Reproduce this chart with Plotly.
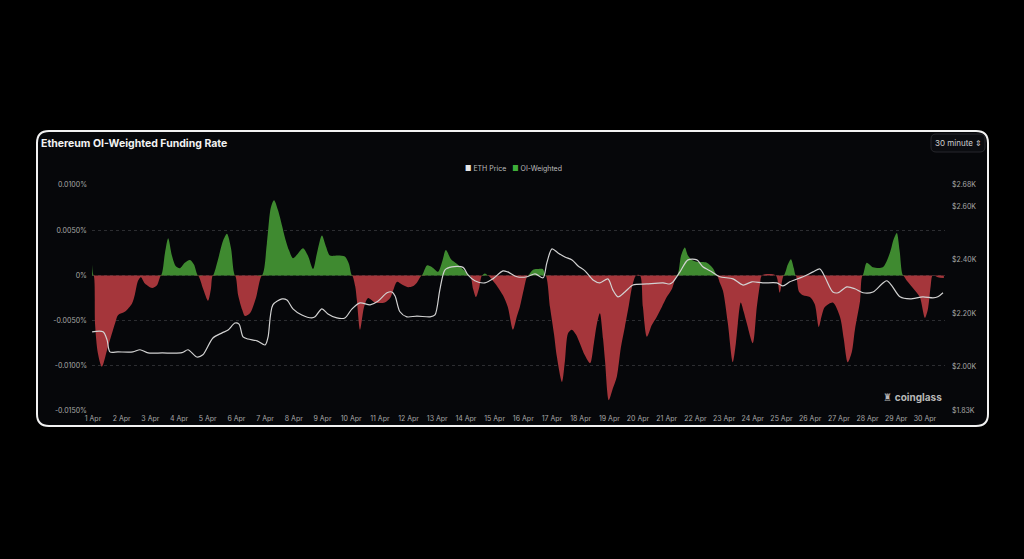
import pandas as pd
import plotly.graph_objects as go

# ---------------- data ----------------
# day-of-month (fractional) and OI-weighted funding rate in percent
fr_day = [0.97, 1.02, 1.07, 1.17, 1.31, 1.52, 1.77, 1.87, 2.12, 2.36, 2.46, 2.57, 2.67, 2.81, 3.06, 3.23, 3.37,
          3.51, 3.62, 3.75, 3.89, 4.03, 4.20, 4.38, 4.52, 4.66,
          4.84, 5.01, 5.11, 5.18,
          5.36, 5.53, 5.67, 5.81, 5.95,
          6.06, 6.20, 6.30, 6.47, 6.68, 6.89,
          7.06, 7.20, 7.31, 7.45, 7.59, 7.69, 7.83, 7.97, 8.14, 8.32, 8.49, 8.67, 8.81, 8.98, 9.12, 9.26, 9.54, 9.78, 9.92, 10.03,
          10.14, 10.20, 10.31, 10.45, 10.59, 10.83, 11.17, 11.36, 11.46, 11.60, 11.77, 11.98, 12.15, 12.29, 12.46,
          12.64, 12.82, 13.03, 13.17, 13.30, 13.48, 13.68, 13.96, 14.14,
          14.25, 14.35, 14.46, 14.56, 14.66, 14.77,
          14.94, 15.11, 15.29, 15.46, 15.64, 15.78, 15.88, 16.02, 16.16,
          16.33, 16.47, 16.68, 16.78,
          16.93, 17.07, 17.17, 17.35, 17.45, 17.56, 17.69, 17.83, 17.97, 18.14, 18.33, 18.46, 18.57, 18.67, 18.78, 18.85,
          18.98, 19.12, 19.26, 19.40, 19.54, 19.68, 19.79, 19.93, 20.07,
          20.17, 20.31, 20.48, 20.65, 20.83, 21.00, 21.18, 21.36,
          21.50, 21.63, 21.74, 21.88, 22.05, 22.40, 22.61, 22.75,
          22.85, 22.96, 23.13, 23.30, 23.41, 23.48, 23.58, 23.68, 23.79, 24.00, 24.14, 24.25, 24.32,
          24.80, 24.94, 25.08, 25.22, 25.33, 25.43, 25.50,
          25.61, 25.75, 25.99, 26.16, 26.30, 26.40, 26.51, 26.79, 27.04, 27.17, 27.31, 27.45, 27.56, 27.74, 27.83,
          27.97, 28.19, 28.53, 28.78, 28.91, 29.02, 29.12, 29.24,
          29.37, 29.58, 29.82, 30.00, 30.10, 30.20, 30.27, 30.45, 30.66]
fr_value = [0.0012, 0, -0.0053, -0.0086, -0.0101, -0.0079, -0.0053, -0.0044, -0.0040, -0.0031, -0.0021, -0.0006, -0.0002, -0.0009, -0.0014, -0.0011, 0,
            0.0025, 0.0041, 0.0022, 0.0010, 0.0008, 0.0014, 0.0017, 0.0012, 0,
            -0.0015, -0.0028, -0.0015, 0,
            0.0018, 0.0038, 0.0046, 0.0030, 0,
            -0.0022, -0.0038, -0.0045, -0.0042, -0.0025, 0,
            0.0035, 0.0075, 0.0083, 0.0072, 0.0055, 0.0042, 0.0028, 0.0019, 0.0024, 0.0030, 0.0022, 0.0007, 0.0025, 0.0044, 0.0032, 0.0022, 0.0022, 0.0021, 0.0013, 0,
            -0.0012, -0.0028, -0.0060, -0.0035, -0.0025, -0.0030, -0.0030, -0.0025, -0.0017, -0.0007, -0.0010, -0.0013, -0.0012, -0.0008, 0,
            0.0011, 0.0009, 0.0004, 0.0015, 0.0028, 0.0018, 0.0013, 0.0005, 0,
            -0.0015, -0.0024, -0.0014, 0, 0.0002, 0,
            -0.0006, -0.0013, -0.0022, -0.0035, -0.0060, -0.0045, -0.0035, -0.0015, 0,
            0.0006, 0.0007, 0.0007, 0,
            -0.0035, -0.0065, -0.0090, -0.0118, -0.0095, -0.0064, -0.0060, -0.0065, -0.0075, -0.0088, -0.0097, -0.0075, -0.0053, -0.0042, -0.0070, -0.0095,
            -0.0138, -0.0125, -0.0112, -0.0080, -0.0057, -0.0033, -0.0013, 0, 0,
            -0.0035, -0.0068, -0.0055, -0.0046, -0.0035, -0.0024, -0.0015, 0,
            0.0022, 0.0031, 0.0022, 0.0017, 0.0015, 0.0014, 0.0008, 0,
            -0.0008, -0.0017, -0.0053, -0.0096, -0.0075, -0.0053, -0.0030, -0.0040, -0.0053, -0.0075, -0.0035, -0.0010, 0,
            0, -0.0019, 0, 0.0012, 0.0018, 0.0008, 0,
            -0.0018, -0.0022, -0.0024, -0.0032, -0.0057, -0.0045, -0.0035, -0.0030, -0.0046, -0.0070, -0.0096, -0.0085, -0.0060, -0.0028, 0,
            0.0014, 0.0009, 0.0009, 0.0025, 0.0040, 0.0047, 0.0027, 0,
            -0.0006, -0.0014, -0.0024, -0.0047, -0.0038, -0.0012, 0, -0.0002, -0.0003]

# ETH price (USD)
price_day = [0.97, 1.35, 1.49, 1.59, 1.87, 2.39, 2.64, 2.92, 3.41, 4.10, 4.31, 4.62, 4.83, 5.18, 5.50, 5.71, 5.95,
             6.09, 6.23, 6.40, 6.72, 7.00, 7.10, 7.27, 7.59, 7.76, 7.97, 8.28, 8.63, 8.74, 8.98, 9.19, 9.50, 9.78,
             10.03, 10.31, 10.66, 10.93, 11.25, 11.42, 11.53, 11.70, 11.94, 12.29, 12.75, 12.92, 13.09, 13.27, 13.51,
             13.90, 14.07, 14.31, 14.66, 14.94, 15.29, 15.46, 15.78, 16.13, 16.41, 16.69, 16.82, 17.00, 17.21, 17.45,
             17.70, 17.90, 18.15, 18.43, 18.67, 18.95, 19.12, 19.30, 19.54, 19.82, 20.31, 20.87, 21.11, 21.22, 21.46,
             21.74, 22.05, 22.26, 22.58, 22.85, 23.31, 23.66, 23.97, 24.35, 24.84, 25.05, 25.29, 25.75, 26.10, 26.34,
             26.51, 26.79, 26.97, 27.28, 27.56, 27.84, 28.19, 28.50, 28.67, 28.85, 29.13, 29.48, 29.93, 30.28, 30.45, 30.63]
price_usd = [2131, 2131, 2101, 2056, 2056, 2056, 2064, 2052, 2052, 2053, 2064, 2037, 2045, 2108, 2127, 2138, 2164,
             2160, 2112, 2104, 2097, 2082, 2110, 2232, 2254, 2250, 2217, 2194, 2183, 2187, 2217, 2198, 2183, 2183,
             2217, 2239, 2232, 2245, 2277, 2280, 2265, 2206, 2187, 2190, 2187, 2194, 2288, 2363, 2374,
             2372, 2344, 2322, 2314, 2329, 2359, 2355, 2337, 2337, 2348, 2333, 2389, 2441, 2426, 2411,
             2400, 2378, 2359, 2325, 2314, 2329, 2288, 2262, 2280, 2306, 2310, 2314, 2310, 2318, 2355,
             2400, 2400, 2374, 2355, 2337, 2329, 2306, 2318, 2314, 2314, 2303, 2318, 2337, 2355, 2366,
             2337, 2280, 2277, 2299, 2292, 2277, 2280, 2310, 2322, 2303, 2262, 2254, 2262, 2258, 2262, 2277]

x_tick_days = list(range(1, 31))
x_tick_text = [f"{d} Apr" for d in x_tick_days]
fr_tick_vals = [-0.015, -0.010, -0.005, 0, 0.005, 0.010]
fr_tick_text = ["-0.0150%", "-0.0100%", "-0.0050%", "0%", "0.0050%", "0.0100%"]
price_tick_vals = [1835, 2000, 2200, 2400, 2600, 2680]
price_tick_text = ["$1.83K", "$2.00K", "$2.20K", "$2.40K", "$2.60K", "$2.68K"]

# ---------------- helpers ----------------
base = pd.Timestamp("2025-04-01")


def to_time(days):
    return [base + pd.Timedelta(days=d - 1) for d in days]


W, H = 1024, 559
L, R, T, B = 92, 945, 185, 411  # plot area in pixels
PW, PH = R - L, B - T


def px(x):
    return (x - L) / PW


def py(y):
    return (B - y) / PH


RED = "#a5363b"
GREEN = "#3f8a30"

fr_pos = [max(v, 0) for v in fr_value]
fr_neg = [min(v, 0) for v in fr_value]
fr_t = to_time(fr_day)

fig = go.Figure()
fig.add_trace(go.Scatter(x=fr_t, y=fr_neg, mode="lines", fill="tozeroy",
                         line=dict(width=0, shape="spline", smoothing=0.8, color=RED),
                         fillcolor=RED, showlegend=False, hoverinfo="skip"))
fig.add_trace(go.Scatter(x=fr_t, y=fr_pos, mode="lines", fill="tozeroy",
                         line=dict(width=0, shape="spline", smoothing=0.8, color=GREEN),
                         fillcolor=GREEN, showlegend=False, hoverinfo="skip"))
fig.add_trace(go.Scatter(x=to_time(price_day), y=price_usd, mode="lines", yaxis="y2",
                         line=dict(width=1.2, shape="spline", smoothing=0.8, color="#d2d2d2"),
                         showlegend=False, hoverinfo="skip"))

# card with rounded corners (pixel geometry converted to paper coords)
cx0, cx1, cy0, cy1, rad = 37, 988, 131, 426, 12


def card_path(x0, x1, y0, y1, r):
    return (f"M {px(x0 + r)} {py(y0)} L {px(x1 - r)} {py(y0)} "
            f"Q {px(x1)} {py(y0)} {px(x1)} {py(y0 + r)} L {px(x1)} {py(y1 - r)} "
            f"Q {px(x1)} {py(y1)} {px(x1 - r)} {py(y1)} L {px(x0 + r)} {py(y1)} "
            f"Q {px(x0)} {py(y1)} {px(x0)} {py(y1 - r)} L {px(x0)} {py(y0 + r)} "
            f"Q {px(x0)} {py(y0)} {px(x0 + r)} {py(y0)} Z")


shapes = [
    dict(type="path", xref="paper", yref="paper", path=card_path(cx0, cx1, cy0, cy1, rad),
         fillcolor="#06070a", line=dict(color="#f2f2f2", width=2), layer="below"),
    dict(type="path", xref="paper", yref="paper", path=card_path(931, 985, 134, 152, 5),
         fillcolor="#0b0c10", line=dict(color="#26272c", width=1), layer="below"),
]

annotations = [
    dict(text="<b>Ethereum OI-Weighted Funding Rate</b>", x=px(39), y=py(143), xref="paper", yref="paper",
         xanchor="left", yanchor="middle", showarrow=False,
         font=dict(family="Inter, Roboto, sans-serif", size=10.5, color="#f2f2f2")),
    dict(text="30 minute ⇕", x=px(958), y=py(143), xref="paper", yref="paper",
         xanchor="center", yanchor="middle", showarrow=False,
         font=dict(family="Inter, Roboto, sans-serif", size=8, color="#d0d0d0")),
    dict(text="<span style='color:#e6e6e6'>■</span> ETH Price   <span style='color:#3fae3a'>■</span> OI-Weighted",
         x=px(513), y=py(168), xref="paper", yref="paper", xanchor="center", yanchor="middle", showarrow=False,
         font=dict(family="Inter, Roboto, sans-serif", size=7, color="#bdbdbd")),
    dict(text="<b>♜</b> <b>coinglass</b>", x=px(944), y=py(397), xref="paper", yref="paper",
         xanchor="right", yanchor="middle", showarrow=False,
         font=dict(family="Inter, DejaVu Sans, sans-serif", size=10, color="#b8b8b8")),
]

tick_font = dict(family="Inter, Roboto, sans-serif", size=7, color="#a8a8a8")

fig.update_layout(
    width=W, height=H,
    margin=dict(l=L, r=W - R, t=T, b=H - B, pad=0),
    paper_bgcolor="#000000", plot_bgcolor="rgba(0,0,0,0)",
    shapes=shapes, annotations=annotations,
    xaxis=dict(type="date", range=to_time([0.965, 30.70]),
               tickmode="array", tickvals=to_time(x_tick_days), ticktext=x_tick_text,
               showgrid=False, zeroline=False, showline=False, ticks="", tickfont=tick_font,
               ticklabelstandoff=2),
    yaxis=dict(range=[-0.015, 0.010], tickmode="array", tickvals=fr_tick_vals, ticktext=fr_tick_text,
               showgrid=True, gridcolor="#2c2d31", griddash="dot", gridwidth=1,
               zeroline=False, showline=False, ticks="", tickfont=tick_font, ticklabelstandoff=4),
    yaxis2=dict(range=[1835, 2680], overlaying="y", side="right", tickmode="array",
                tickvals=price_tick_vals, ticktext=price_tick_text, showgrid=False, zeroline=False,
                showline=False, ticks="", tickfont=tick_font, ticklabelstandoff=6),
    showlegend=False,
)

fig.write_html(
    "out.html",
    config={"displayModeBar": False},
    post_script="document.body.style.margin='0';document.body.style.background='#000';"
                "document.documentElement.style.background='#000';",
)
